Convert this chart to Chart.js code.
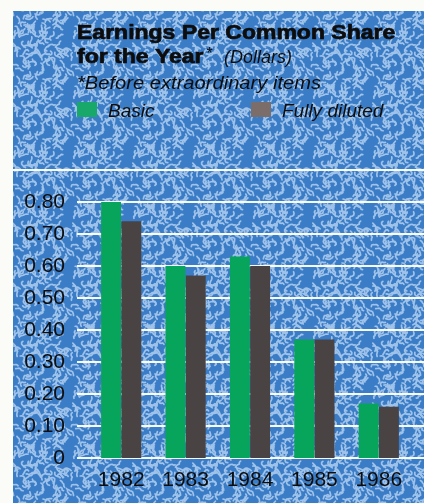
<!DOCTYPE html>
<html>
<head>
<meta charset="utf-8">
<script src="https://cdn.jsdelivr.net/npm/chart.js@4.4.0/dist/chart.umd.min.js"></script>
<style>
  html, body { margin: 0; padding: 0; background: #fbfbf8; }
  #wrap { width: 424px; height: 503px; }
</style>
</head>
<body>
<div id="wrap"><canvas id="chart" width="424" height="503"></canvas></div>
<script>
// Earnings per common share, before extraordinary items (dollars)
const years = ['1982', '1983', '1984', '1985', '1986'];
const basic = [0.80, 0.60, 0.63, 0.37, 0.17];
const fullyDiluted = [0.74, 0.57, 0.60, 0.37, 0.16];
const seriesNames = ['Basic', 'Fully diluted'];
const yMax = 0.9;
const yStep = 0.1;

const COLORS = {
  paper: '#fbfbf8',
  blue: '#3b7cc6',
  squiggle: '#9fc3ea',
  green: '#07a45c',
  grey: '#4a4344',
  greenSwatch: '#17a86a',
  greySwatch: '#7b6d69',
  ink: '#0d0d0d',
  grid: 'rgba(255,255,255,0.95)'
};

const PANEL = { left: 13, top: 11 };
const TEXT_LEFT = 77;

// Small tiled "worm" texture for the blue panel (deterministic hash sequence)
function makeTexture() {
  const size = 60;
  const tile = document.createElement('canvas');
  tile.width = size; tile.height = size;
  const t = tile.getContext('2d');
  t.fillStyle = COLORS.blue;
  t.fillRect(0, 0, size, size);
  let seed = 4242;
  const next = () => { seed = (seed * 1103515245 + 12345) & 0x7fffffff; return seed / 0x7fffffff; };
  t.strokeStyle = COLORS.squiggle;
  t.lineWidth = 1.7;
  t.lineCap = 'round';
  t.lineJoin = 'round';
  for (let k = 0; k < 105; k++) {
    const pts = [];
    let x = next() * size, y = next() * size, a = next() * Math.PI * 2;
    pts.push([x, y]);
    for (let s = 0; s < 5; s++) {
      a += (next() - 0.5) * 2.2;
      x += Math.cos(a) * 1.7; y += Math.sin(a) * 1.7;
      pts.push([x, y]);
    }
    for (let dx = -size; dx <= size; dx += size) {
      for (let dy = -size; dy <= size; dy += size) {
        t.beginPath();
        pts.forEach((p, i) => i ? t.lineTo(p[0] + dx, p[1] + dy) : t.moveTo(p[0] + dx, p[1] + dy));
        t.stroke();
      }
    }
  }
  return tile;
}

const backgroundPlugin = {
  id: 'panelBackground',
  beforeDraw(chart) {
    const ctx = chart.ctx;
    ctx.save();
    ctx.fillStyle = COLORS.paper;
    ctx.fillRect(0, 0, chart.width, chart.height);
    ctx.fillStyle = ctx.createPattern(makeTexture(), 'repeat');
    ctx.fillRect(PANEL.left, PANEL.top, chart.width - PANEL.left, chart.height - PANEL.top);
    ctx.restore();
  }
};

// White rules at each y tick; the top rule runs across the whole panel
const rulesPlugin = {
  id: 'rules',
  beforeDatasetsDraw(chart) {
    const ctx = chart.ctx;
    const y = chart.scales.y;
    ctx.save();
    ctx.strokeStyle = COLORS.grid;
    ctx.lineWidth = 2;
    y.ticks.forEach(tick => {
      const py = Math.round(y.getPixelForValue(tick.value));
      const x0 = tick.value >= yMax - 1e-9 ? PANEL.left : TEXT_LEFT;
      ctx.beginPath();
      ctx.moveTo(x0, py);
      ctx.lineTo(chart.width, py);
      ctx.stroke();
    });
    ctx.restore();
  }
};

// Draws text widened horizontally; optional outline makes it heavier
function stretchedText(ctx, text, x, y, sx, heavy) {
  ctx.save();
  ctx.translate(x, y);
  ctx.scale(sx, 1);
  ctx.fillText(text, 0, 0);
  if (heavy) {
    ctx.strokeStyle = ctx.fillStyle;
    ctx.lineWidth = heavy;
    ctx.lineJoin = 'round';
    ctx.strokeText(text, 0, 0);
  }
  const w = ctx.measureText(text).width * sx;
  ctx.restore();
  return w;
}

// Heading, footnote and key
const headerPlugin = {
  id: 'header',
  afterDraw(chart) {
    const ctx = chart.ctx;
    ctx.save();
    ctx.fillStyle = COLORS.ink;
    ctx.textBaseline = 'alphabetic';
    ctx.textAlign = 'left';

    ctx.font = 'bold 20px "Liberation Sans", Arial, sans-serif';
    stretchedText(ctx, 'Earnings Per Common Share', TEXT_LEFT, 39, 1.15, 0.7);
    const w = stretchedText(ctx, 'for the Year', TEXT_LEFT, 63, 1.15, 0.7);

    ctx.font = '16px "Liberation Sans", Arial, sans-serif';
    ctx.fillText('*', TEXT_LEFT + w + 3, 59);
    ctx.font = 'italic 18px "Liberation Sans", Arial, sans-serif';
    ctx.fillText('(Dollars)', 224, 63);

    ctx.font = 'italic 19px "Liberation Sans", Arial, sans-serif';
    stretchedText(ctx, '*Before extraordinary items', TEXT_LEFT, 89, 1.06);

    const keys = [
      { x: TEXT_LEFT, color: COLORS.greenSwatch, text: seriesNames[0] },
      { x: 251, color: COLORS.greySwatch, text: seriesNames[1] }
    ];
    keys.forEach(k => {
      ctx.fillStyle = k.color;
      ctx.fillRect(k.x, 102, 20, 15);
      ctx.fillStyle = COLORS.ink;
      ctx.font = 'italic 19px "Liberation Sans", Arial, sans-serif';
      ctx.fillText(k.text, k.x + 31, 117);
    });
    ctx.restore();
  }
};

const tickFont = { family: '"Liberation Sans", Arial, sans-serif', size: 21 };

new Chart(document.getElementById('chart'), {
  type: 'bar',
  data: {
    labels: years,
    datasets: [
      { label: seriesNames[0], data: basic, backgroundColor: COLORS.green, borderWidth: 0 },
      { label: seriesNames[1], data: fullyDiluted, backgroundColor: COLORS.grey, borderWidth: 0 }
    ]
  },
  options: {
    responsive: false,
    animation: false,
    devicePixelRatio: 1,
    categoryPercentage: 0.63,
    barPercentage: 0.98,
    layout: { padding: { top: 170, right: 13, bottom: 0, left: 0 } },
    plugins: {
      legend: { display: false },
      title: { display: false },
      tooltip: { enabled: false }
    },
    scales: {
      x: {
        grid: { display: false, drawTicks: false },
        border: { display: false },
        ticks: { font: tickFont, color: COLORS.ink, padding: 10, maxRotation: 0 },
        afterFit(s) { s.height = 45; }
      },
      y: {
        min: 0,
        max: yMax,
        grid: { display: false, drawTicks: false },
        border: { display: false },
        ticks: {
          stepSize: yStep,
          font: tickFont,
          color: COLORS.ink,
          padding: 24,
          autoSkip: false,
          callback(v) {
            if (Math.abs(v) < 1e-9) return '0';
            if (v >= yMax - 1e-9) return '';
            return Number(v).toFixed(2);
          }
        },
        afterFit(s) { s.width = 89; }
      }
    }
  },
  plugins: [backgroundPlugin, rulesPlugin, headerPlugin]
});
</script>
</body>
</html>
